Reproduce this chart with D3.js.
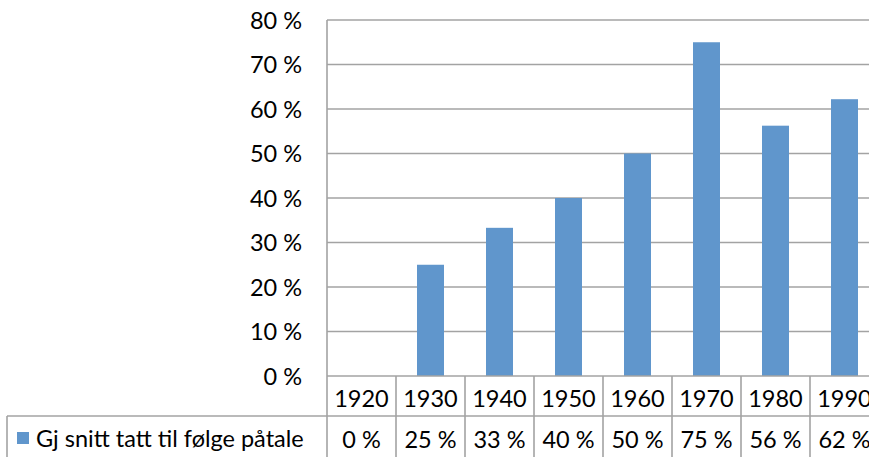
<!DOCTYPE html>
<html><head><meta charset="utf-8">
<script src="https://cdn.jsdelivr.net/npm/d3@7"></script>
<style>body{margin:0;background:#fff}svg{display:block}text{font-family:Lato,"Open Sans",sans-serif;fill:#000}</style>
</head><body><svg id="c" width="869" height="457"></svg>
<script>
const categories = ["1920","1930","1940","1950","1960","1970","1980","1990"];
const values = [0, 25, 33.3, 40, 50, 75, 56.25, 62.2];
const valueLabels = ["0 %","25 %","33 %","40 %","50 %","75 %","56 %","62 %"];
const yTicks = [0,10,20,30,40,50,60,70,80];
const seriesName = "Gj snitt tatt til følge påtale";

(function(){
const svg = d3.select("#c");
const pLeft = 327, pTop = 20, pBottom = 376, catW = 69;
const x = d3.scaleBand().domain(categories).range([pLeft, pLeft + catW*categories.length]).paddingInner(0).paddingOuter(0);
const y = d3.scaleLinear().domain([0,80]).range([pBottom, pTop]);
const grid = "#a3a3a3";
const fs = 23.5;

svg.append("g").selectAll("line").data(yTicks.filter(d=>d>0)).join("line")
  .attr("x1", pLeft).attr("x2", 869).attr("y1", d=>y(d)).attr("y2", d=>y(d))
  .attr("stroke", grid).attr("stroke-width", 1.6);

svg.append("g").selectAll("text").data(yTicks).join("text")
  .attr("x", 302).attr("y", d=>y(d) + 8.5).attr("text-anchor","end")
  .attr("font-size", fs).text(d=>d+" %");

const bw = 27;
svg.append("g").selectAll("rect").data(values).join("rect")
  .attr("x", (d,i)=>x(categories[i]) + x.bandwidth()/2 - bw/2)
  .attr("width", bw)
  .attr("y", d=>y(d)).attr("height", d=>pBottom - y(d))
  .attr("fill", "#6096cc");

const tb = svg.append("g").attr("stroke", grid).attr("stroke-width", 1.6);
tb.append("line").attr("x1", pLeft).attr("x2", pLeft).attr("y1", pTop).attr("y2", 457);
tb.append("line").attr("x1", pLeft).attr("x2", 869).attr("y1", pBottom).attr("y2", pBottom);
const rowY = 416;
tb.append("line").attr("x1", 7).attr("x2", 869).attr("y1", rowY).attr("y2", rowY);
tb.append("line").attr("x1", 7).attr("x2", 7).attr("y1", rowY).attr("y2", 457);
tb.selectAll("line.v").data(categories.slice(1)).join("line").attr("class","v")
  .attr("x1", d=>x(d)).attr("x2", d=>x(d)).attr("y1", pBottom).attr("y2", 457);

svg.append("g").selectAll("text").data(categories).join("text")
  .attr("x", d=>x(d)+x.bandwidth()/2).attr("y", 407)
  .attr("text-anchor","middle").attr("font-size", fs).text(d=>d);

svg.append("g").selectAll("text").data(valueLabels).join("text")
  .attr("x", (d,i)=>x(categories[i])+x.bandwidth()/2).attr("y", 448)
  .attr("text-anchor","middle").attr("font-size", fs).text(d=>d);

svg.append("rect").attr("x", 17).attr("y", 432).attr("width", 12).attr("height", 12).attr("fill", "#6096cc");
svg.append("text").attr("x", 36).attr("y", 447).attr("font-size", fs).text(seriesName);
})();
</script></body></html>
